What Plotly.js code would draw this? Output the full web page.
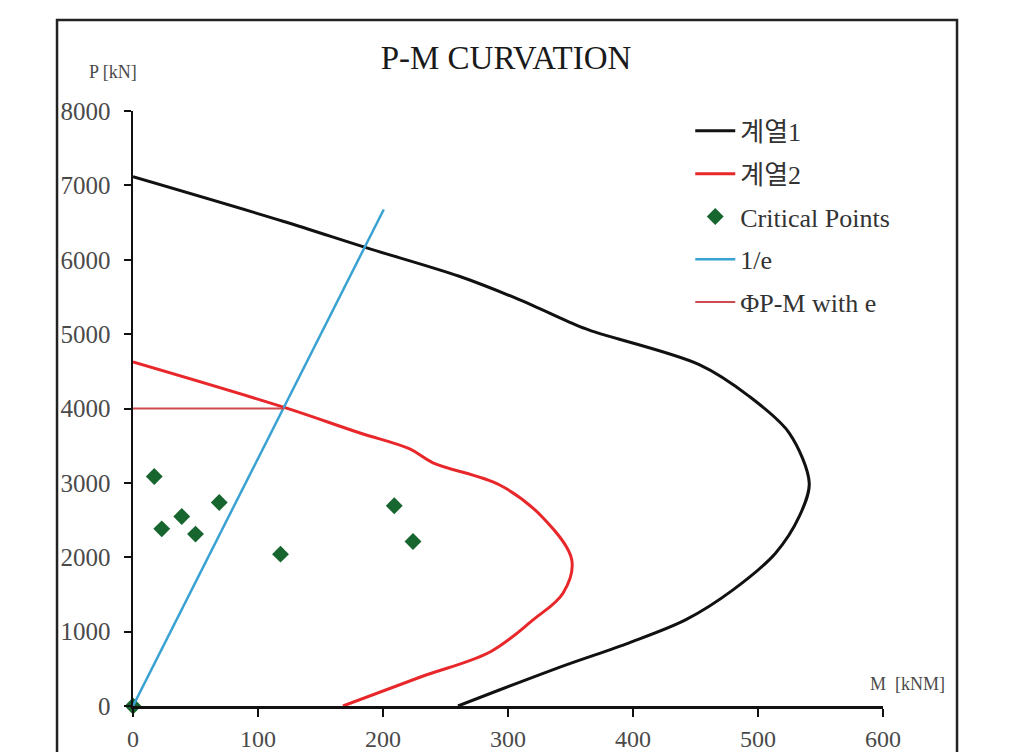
<!DOCTYPE html>
<html>
<head>
<meta charset="utf-8">
<script src="https://cdn.plot.ly/plotly-3.0.1.min.js"></script>
<style>html,body{margin:0;padding:0;background:#fff;}#chart{width:1027px;height:752px;}</style>
</head>
<body>
<div id="chart"></div>
<script>
// 계열1 (outer curve)
const series1M = [0, 120, 187, 261, 309, 357, 371, 453, 493, 525, 541, 533, 514, 480, 442, 397, 346, 293, 260];
const series1P = [7116, 6518, 6160, 5778, 5464, 5105, 5020, 4590, 4163, 3670, 2997, 2548, 2055, 1561, 1157, 850, 550, 215, 0];
// 계열2 (inner curve)
const series2M = [0, 121, 181, 221, 240, 293, 327, 351, 344, 320, 286, 230, 168];
const series2P = [4626, 4015, 3674, 3459, 3270, 2975, 2548, 1965, 1517, 1157, 730, 390, 0];
// Critical Points
const critM = [0, 17, 23, 39, 50, 69, 118, 209, 224];
const critP = [0, 3086, 2382, 2548, 2311, 2736, 2042, 2692, 2211];
// 1/e
const invEM = [0, 200.6];
const invEP = [0, 6676];
// ΦP-M with e
const phiM = [0, 121];
const phiP = [4000, 4000];

const xTicks = [0, 100, 200, 300, 400, 500, 600];
const yTicks = [0, 1000, 2000, 3000, 4000, 5000, 6000, 7000, 8000];

const serif = "'Liberation Serif', 'Times New Roman', 'Noto Sans CJK KR', serif";

const traces = [
  {x: series1M, y: series1P, name: '계열1', mode: 'lines', legendgroup: 'a',
   line: {color: '#111111', width: 3, shape: 'spline', smoothing: 0.9}},
  {x: series2M, y: series2P, name: '계열2', mode: 'lines', legendgroup: 'b',
   line: {color: '#E8272B', width: 3, shape: 'spline', smoothing: 1.0}},
  {x: critM, y: critP, name: 'Critical Points', mode: 'markers', legendgroup: 'c', cliponaxis: false,
   marker: {symbol: 'diamond', size: 13, color: '#17652F'}},
  {x: invEM, y: invEP, name: '1/e', mode: 'lines', legendgroup: 'd',
   line: {color: '#3AA2D2', width: 2.5}},
  {x: phiM, y: phiP, name: 'ΦP-M with e', mode: 'lines', legendgroup: 'e',
   line: {color: '#CF4A4F', width: 2}}
];

const axisCommon = {
  showgrid: false, zeroline: false, showline: true, linecolor: '#111', linewidth: 2.5,
  ticks: 'outside', tickcolor: '#111', tickwidth: 2
};

const layout = {
  width: 1027, height: 752,
  paper_bgcolor: '#ffffff', plot_bgcolor: '#ffffff',
  margin: {l: 133, r: 144, t: 111, b: 46},
  title: {text: 'P-M CURVATION', x: 0.4927, xanchor: 'center', y: 0.924, yanchor: 'middle',
          font: {family: serif, size: 33, color: '#1a1a1a'}},
  xaxis: Object.assign({}, axisCommon, {range: [0, 600], tickvals: xTicks, ticklen: 8, ticklabelstandoff: 2,
          tickfont: {family: serif, size: 24, color: '#4a4a4a'}}),
  yaxis: Object.assign({}, axisCommon, {range: [0, 8000], tickvals: yTicks, ticklen: 7, ticklabelstandoff: 8,
          tickfont: {family: serif, size: 25, color: '#4a4a4a'}}),
  showlegend: true,
  legend: {x: 0.743, y: 1.006, xanchor: 'left', yanchor: 'top', bgcolor: 'rgba(0,0,0,0)',
           font: {family: serif, size: 26, color: '#333'}, traceorder: 'grouped', tracegroupgap: 6,
           itemwidth: 40},
  annotations: [
    {text: 'P [kN]', xref: 'paper', yref: 'paper', x: -0.027, y: 1.0655, showarrow: false,
     xanchor: 'center', yanchor: 'middle', font: {family: serif, size: 18, color: '#4a4a4a'}},
    {text: 'M  [kNM]', xref: 'paper', yref: 'paper', x: 1.0333, y: 0.037, showarrow: false,
     xanchor: 'center', yanchor: 'middle', font: {family: serif, size: 18, color: '#4a4a4a'}}
  ],
  shapes: [
    {type: 'rect', xref: 'paper', yref: 'paper', x0: -0.1013, x1: 1.0987, y0: -0.3, y1: 1.1529,
     line: {color: '#222', width: 2.5}, fillcolor: 'rgba(0,0,0,0)', layer: 'below'}
  ]
};

Plotly.newPlot('chart', traces, layout, {displayModeBar: false, staticPlot: true});
</script>
</body>
</html>
